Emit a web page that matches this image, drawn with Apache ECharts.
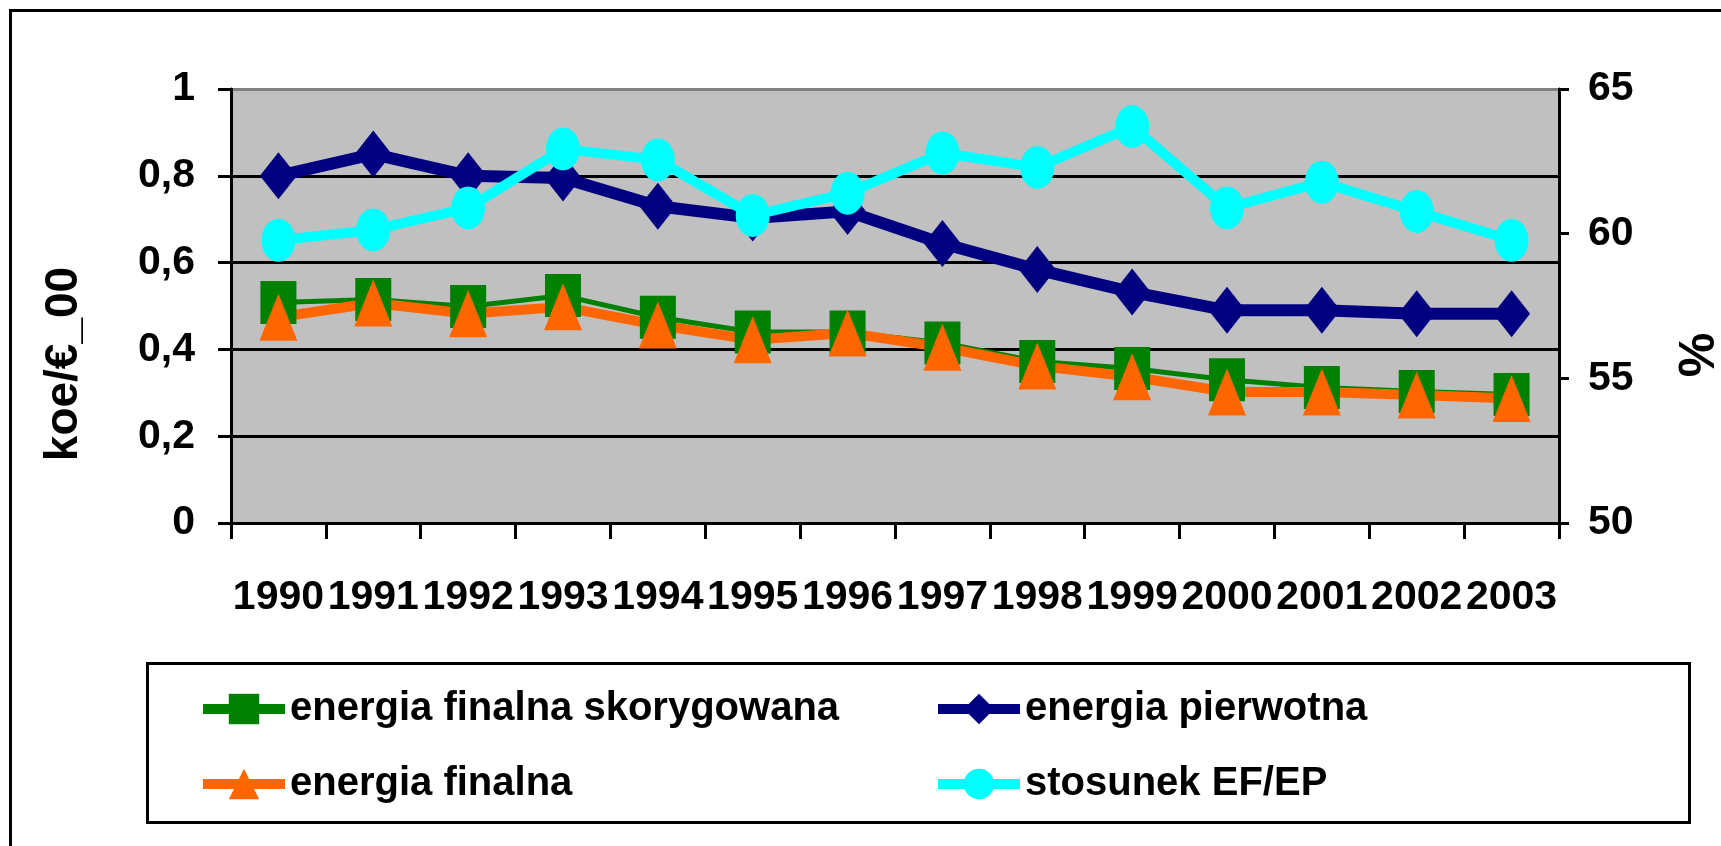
<!DOCTYPE html>
<html>
<head>
<meta charset="utf-8">
<script src="https://cdn.jsdelivr.net/npm/echarts@6/dist/echarts.min.js"></script>
<style>
  html, body { margin: 0; padding: 0; background: #fff; }
  #chart { width: 1721px; height: 846px; }
</style>
</head>
<body>
<div id="chart"></div>
<script>
// dane
var years = ['1990', '1991', '1992', '1993', '1994', '1995', '1996', '1997', '1998', '1999', '2000', '2001', '2002', '2003'];
var finalnaSkoryg = [0.508, 0.515, 0.499, 0.524, 0.474, 0.44, 0.44, 0.415, 0.372, 0.356, 0.33, 0.312, 0.303, 0.296];
var finalna = [0.474, 0.507, 0.482, 0.498, 0.456, 0.422, 0.438, 0.405, 0.362, 0.337, 0.302, 0.302, 0.295, 0.287];
var pierwotna = [0.80, 0.85, 0.80, 0.795, 0.73, 0.703, 0.718, 0.644, 0.584, 0.532, 0.49, 0.49, 0.482, 0.482];
var stosunek = [59.77, 60.13, 60.89, 62.93, 62.55, 60.63, 61.40, 62.79, 62.29, 63.70, 60.89, 61.78, 60.77, 59.77];
var leftTicks = [0, 0.2, 0.4, 0.6, 0.8, 1];
var rightTicks = [50, 55, 60, 65];

var FONT = "'Liberation Sans', Arial, sans-serif";
var ellipse = 'path://M50,0A50,50,0,1,1,50,100A50,50,0,1,1,50,0Z';

var myChart = echarts.init(document.getElementById('chart'));

var labelStyle = { color: '#000', fontFamily: FONT, fontWeight: 'bold', fontSize: 41 };
var legendText = { color: '#000', fontFamily: FONT, fontWeight: 'bold', fontSize: 40, lineHeight: 50 };

var option = {
  animation: false,
  backgroundColor: '#fff',
  grid: {
    left: 231, right: 162, top: 89, bottom: 323,
    show: true, backgroundColor: '#c0c0c0', borderWidth: 0,
    outerBoundsMode: 'none'
  },
  // dwie kolumny legendy
  legend: [
    {
      orient: 'vertical', left: 198, top: 684, padding: 0,
      itemWidth: 82, itemHeight: 38, itemGap: 25,
      lineStyle: { width: 10 },
      data: ['energia finalna skorygowana', 'energia finalna'],
      textStyle: legendText
    },
    {
      orient: 'vertical', left: 933, top: 684, padding: 0,
      itemWidth: 82, itemHeight: 38, itemGap: 25,
      lineStyle: { width: 10 },
      data: ['energia pierwotna', 'stosunek EF/EP'],
      textStyle: legendText
    }
  ],
  xAxis: {
    type: 'category',
    data: years,
    boundaryGap: true,
    axisLine: { lineStyle: { color: '#000', width: 3 } },
    axisTick: { show: true, length: 16, lineStyle: { color: '#000', width: 3 } },
    axisLabel: Object.assign({ margin: 54, interval: 0 }, labelStyle),
    splitLine: { show: false }
  },
  yAxis: [
    {
      type: 'value', min: leftTicks[0], max: leftTicks[leftTicks.length - 1], interval: 0.2,
      axisLine: { show: true, lineStyle: { color: '#000', width: 3 } },
      axisTick: { show: true, length: 13, lineStyle: { color: '#000', width: 3 } },
      axisLabel: Object.assign({
        margin: 36,
        formatter: function (v) { return String(+v.toFixed(1)).replace('.', ','); }
      }, labelStyle),
      // gorna linia jest szara (ramka obszaru)
      splitLine: { show: true, lineStyle: { color: ['#000', '#000', '#000', '#000', '#000', '#808080'], width: 3 } }
    },
    {
      type: 'value', min: rightTicks[0], max: rightTicks[rightTicks.length - 1], interval: 5,
      position: 'right',
      axisLine: { show: true, lineStyle: { color: '#000', width: 3 } },
      axisTick: { show: true, length: 10, lineStyle: { color: '#000', width: 3 } },
      axisLabel: Object.assign({ margin: 29 }, labelStyle),
      splitLine: { show: false }
    }
  ],
  series: [
    {
      name: 'energia finalna skorygowana', type: 'line', data: finalnaSkoryg,
      symbol: 'rect', symbolSize: [36, 43],
      lineStyle: { color: '#008000', width: 5 },
      itemStyle: { color: '#008000', borderWidth: 0 }
    },
    {
      name: 'energia finalna', type: 'line', data: finalna,
      symbol: 'triangle', symbolSize: [38, 47],
      lineStyle: { color: '#ff6600', width: 10 },
      itemStyle: { color: '#ff6600', borderWidth: 0 }
    },
    {
      name: 'energia pierwotna', type: 'line', data: pierwotna,
      symbol: 'diamond', symbolSize: [37, 47],
      lineStyle: { color: '#000080', width: 12 },
      itemStyle: { color: '#000080', borderWidth: 0 }
    },
    {
      name: 'stosunek EF/EP', type: 'line', data: stosunek, yAxisIndex: 1,
      symbol: ellipse, symbolSize: [34, 43],
      lineStyle: { color: '#00ffff', width: 10 },
      itemStyle: { color: '#00ffff', borderWidth: 0 }
    }
  ],
  graphic: [
    // ramka calego wykresu
    { type: 'rect', shape: { x: 10.5, y: 10.5, width: 1800, height: 900 },
      style: { fill: 'none', stroke: '#000', lineWidth: 3 }, silent: true },
    // ramka legendy
    { type: 'rect', shape: { x: 147.5, y: 663.5, width: 1542, height: 159 },
      style: { fill: 'none', stroke: '#000', lineWidth: 3 }, silent: true },
    { type: 'text', x: 64, y: 364, rotation: Math.PI / 2,
      style: { text: 'koe/€_00', fill: '#000', font: "bold 46px 'Liberation Sans', Arial, sans-serif",
        textAlign: 'center', textVerticalAlign: 'middle' } },
    { type: 'text', x: 1700, y: 355, rotation: Math.PI / 2,
      style: { text: '%', fill: '#000', font: "bold 50px 'Liberation Sans', Arial, sans-serif",
        textAlign: 'center', textVerticalAlign: 'middle' } }
  ]
};

myChart.setOption(option);
</script>
</body>
</html>
